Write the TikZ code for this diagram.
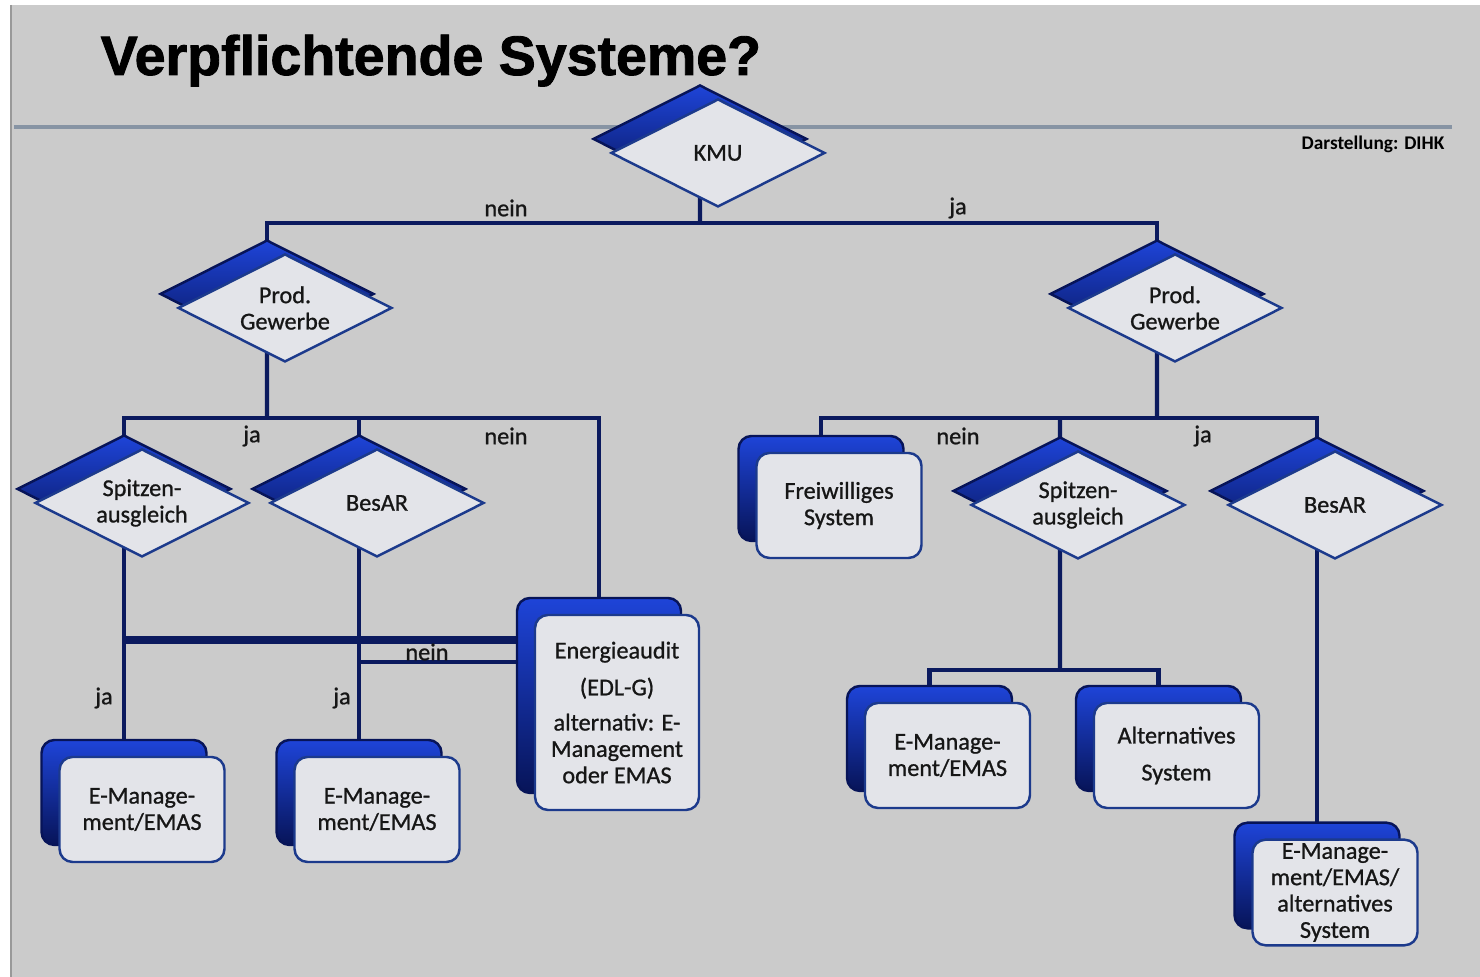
\documentclass[tikz,border=0pt]{standalone}
\usepackage{fontspec}
\setmainfont{Carlito}
\newfontfamily\titlefont{Liberation Sans Bold}[FakeBold=1.6]
\newfontfamily\boxfam{Carlito}[FakeBold=0.9]
\usepackage{tikz}
\usetikzlibrary{shapes.geometric,positioning,calc}

\definecolor{bggray}{HTML}{CBCBCB}
\definecolor{rulegray}{HTML}{8794A4}
\definecolor{linenavy}{HTML}{0B1A5E}
\definecolor{edgeblue}{HTML}{1C3A8C}
\definecolor{facegray}{HTML}{E3E4E9}
\definecolor{shblue}{HTML}{1E44D8}
\definecolor{shnavy}{HTML}{071458}
\definecolor{inkblack}{HTML}{161616}

\newcommand{\boxfont}{\boxfam\fontsize{6.9}{7.5}\selectfont}

\pgfdeclarelayer{back}
\pgfdeclarelayer{wires}
\pgfsetlayers{back,wires,main}

\tikzset{
  decision/.style={diamond, aspect=2, draw=edgeblue, line width=0.7pt,
    fill=facegray, text=inkblack, minimum width=2.14cm, minimum height=1.08cm,
    inner sep=0pt, align=center, font=\boxfont,
    preaction={draw=shnavy, line width=0.7pt, top color=shblue, bottom color=shnavy,
      transform canvas={shift={(-0.18,0.14)}}}},
  outcome/.style={rectangle, rounded corners=1.3mm, draw=edgeblue, line width=0.7pt,
    fill=facegray, text=inkblack, minimum width=1.65cm, minimum height=1.05cm,
    inner sep=1pt, align=center, font=\boxfont,
    preaction={draw=shnavy, line width=0.7pt, top color=shblue, bottom color=shnavy,
      transform canvas={shift={(-0.18,0.17)}}}}
}

\begin{document}
\begin{tikzpicture}
[conn/.style={draw=linenavy, line width=1.15pt},
 lbl/.style={font=\boxfont, text=inkblack, inner sep=0pt}]
\useasboundingbox (0,0) rectangle (14.80,-9.77);

\begin{pgfonlayer}{back}
\fill[white] (0,0) rectangle (14.80,-9.77);
\fill[bggray] (0.10,-0.05) rectangle (14.80,-9.77);
\draw[gray!80, line width=0.6pt] (0.11,-0.05) -- (0.11,-9.77);
\draw[rulegray, line width=1.2pt] (0.14,-1.27) -- (14.52,-1.27);
\end{pgfonlayer}

\node (title) at (1.00,-0.75)[anchor=base west, text=black, inner sep=0pt,
  font=\titlefont\fontsize{15.8}{18}\selectfont] {Verpflichtende Systeme?};
\node (source) at (13.73,-1.44)[text=black,
  font=\bfseries\fontsize{5.5}{6}\selectfont] {Darstellung: DIHK};

% Entscheidungen
\node (kmu) at (7.18,-1.53)[decision] {KMU};
\node (prodL) at (2.85,-3.08)[decision] {Prod.\\Gewerbe};
\node (prodR) at (11.75,-3.08)[decision] {Prod.\\Gewerbe};
\node (spitzL) at (1.42,-5.03)[decision] {Spitzen-\\ausgleich};
\node (besarL) at (3.77,-5.03)[decision] {BesAR};
\node (spitzR) at (10.78,-5.05)[decision] {Spitzen-\\ausgleich};
\node (besarR) at (13.35,-5.05)[decision] {BesAR};

% Ergebnisse
\node (emL1) at (1.42,-8.095)[outcome] {E-Manage-\\ment/EMAS};
\node (emL2) at (3.77,-8.095)[outcome] {E-Manage-\\ment/EMAS};
\node (audit) at (6.17,-7.125)[outcome, minimum width=1.64cm, minimum height=1.95cm]
  {Energieaudit\\[3pt](EDL-G)\\[2.5pt]alternativ: E-\\Management\\oder EMAS};
\node (frei) at (8.39,-5.055)[outcome] {Freiwilliges\\System};
\node (emR) at (9.475,-7.555)[outcome] {E-Manage-\\ment/EMAS};
\node (alt) at (11.765,-7.555)[outcome] {Alternatives\\[3pt]System};
\node (emB) at (13.35,-8.925)[outcome] {E-Manage-\\ment/EMAS/\\alternatives\\System};

\coordinate (barTop) at (7.00,-2.23);
\coordinate (barL) at (2.67,-4.18);
\coordinate (barR) at (11.57,-4.18);
\coordinate (barS) at (10.60,-6.70);
\coordinate (neinA) at (1.24,-6.40);
\coordinate (neinB) at (3.59,-6.62);

\begin{pgfonlayer}{wires}
\draw[conn] ([xshift=-1.8mm]kmu.center) -- (barTop);
\draw[conn] ([xshift=-1.8mm]prodL.center) |- (barTop) -| ([xshift=-1.8mm]prodR.center);

\draw[conn] ([xshift=-1.8mm]prodL.center) -- (barL);
\draw[conn] ([xshift=-1.8mm]spitzL.center) |- (barL) -| ([xshift=-1.8mm]audit.center);
\draw[conn] ([xshift=-1.8mm]besarL.center |- barL) -- ([xshift=-1.8mm]emL2.center);
\draw[conn] ([xshift=-1.8mm]spitzL.center) -- ([xshift=-1.8mm]emL1.center);
\draw[conn, line width=2pt] (neinA) -- (neinA -| audit.center);
\draw[conn] (neinB) -- (neinB -| audit.center);

\draw[conn] ([xshift=-1.8mm]prodR.center) -- (barR);
\draw[conn] ([xshift=-1.8mm]frei.center) |- (barR) -| ([xshift=-1.8mm]besarR.center);
\draw[conn] ([xshift=-1.8mm]spitzR.center |- barR) -- (barS);
\draw[conn] ([xshift=-1.8mm]emR.center) |- (barS) -| ([xshift=-1.8mm]alt.center);
\draw[conn] ([xshift=-1.8mm]besarR.center) -- ([xshift=-1.8mm]emB.center);
\end{pgfonlayer}

\node (n1) at (5.06,-2.08)[lbl] {nein};
\node (j1) at (9.58,-2.08)[lbl] {ja};
\node (j2) at (2.52,-4.36)[lbl] {ja};
\node (n2) at (5.06,-4.36)[lbl] {nein};
\node (j3) at (1.04,-6.98)[lbl] {ja};
\node (j4) at (3.42,-6.98)[lbl] {ja};
\node (n3) at (4.27,-6.52)[lbl] {nein};
\node (n4) at (9.58,-4.36)[lbl] {nein};
\node (j5) at (12.03,-4.36)[lbl] {ja};

\end{tikzpicture}
\end{document}
